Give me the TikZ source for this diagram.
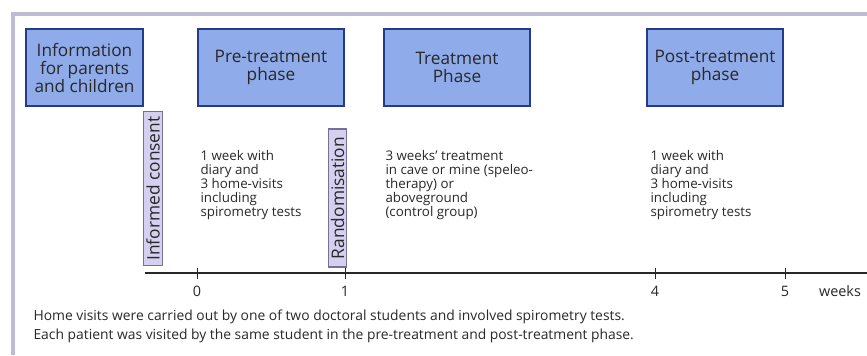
\documentclass[tikz,border=0pt]{standalone}
\usepackage{fontspec}
\setmainfont{Open Sans}
\usepackage{tikz}
\usetikzlibrary{
  arrows.meta,
  positioning,
  calc
}
\definecolor{phase_blue}{RGB}{143, 171, 233}
\definecolor{edge_blue}{RGB}{38, 58, 140}
\definecolor{event_lilac}{RGB}{214, 208, 240}
\definecolor{event_edge}{RGB}{118, 112, 150}
\definecolor{frame_gray}{RGB}{188, 188, 210}
\definecolor{ink_gray}{RGB}{40, 40, 40}

\begin{document}
\begin{tikzpicture}[
    % Styles
    x=0.75pt, y=0.75pt,
    font=\fontsize{10}{10.5}\selectfont,
    text=ink_gray,
    line width=0.8pt,
    % Phase boxes
    phase/.style={
        rectangle,
        draw=edge_blue,
        fill=phase_blue,
        line width=1.1pt,
        minimum height=57.75pt,
        inner sep=1pt,
        align=center,
        font=\fontsize{12.9}{13.5}\selectfont
    },
    % Rotated events
    event/.style={
        rectangle,
        draw=event_edge,
        fill=event_lilac,
        line width=0.9pt,
        rotate=90,
        minimum height=14pt,
        inner sep=0.5pt,
        font=\fontsize{13}{13}\selectfont
    },
    notes/.style={
        anchor=north west,
        inner sep=0pt,
        align=left
    },
    tick_lbl/.style={
        font=\fontsize{10.8}{11}\selectfont
    }
]
\useasboundingbox (0,0) rectangle (867,-355);

% --- FRAME ---
\coordinate (frame_bl) at (13,-355);
\coordinate (frame_tl) at (13,-14);
\coordinate (frame_tr) at (867,-14);
\draw[frame_gray, line width=2.4pt] (frame_bl) -- (frame_tl) -- (frame_tr);

% --- LAYOUT ---

% 1. Phases (top row)
\node[phase, minimum width=87.75pt] (info) at (84.5,-67.5) {Information\\for parents\\and children};
\node[phase, minimum width=109.5pt] (pre) at (271,-67.5) {Pre-treatment\\phase};
\node[phase, minimum width=109.5pt] (treat) at (457,-67.5) {Treatment\\Phase};
\node[phase, minimum width=102pt] (post) at (715,-67.5) {Post-treatment\\phase};

% 2. Events on the time line
\node[event, minimum width=116pt] (consent) at (153,-188.5) {Informed consent};
\node[event, minimum width=103.5pt] (random) at (337.5,-198) {Randomisation};

% 3. What happens in each phase
\node[notes] (pre_txt) at (200,-150) {1 week with\\diary and\\3 home-visits\\including\\spirometry tests};
\node[notes] (treat_txt) at (385,-150) {3 weeks' treatment\\in cave or mine (speleo-\\therapy) or\\aboveground\\(control group)};
\node[notes] (post_txt) at (650,-150) {1 week with\\diary and\\3 home-visits\\including\\spirometry tests};

% --- TIME AXIS ---
\coordinate (axis_start) at (145,-273);
\coordinate (axis_end) at (867,-273);
\draw[ink_gray, line width=1pt] (axis_start) -- (axis_end);

\foreach \xpos/\wk in {197/0, 345/1, 655/4, 785/5} {
    \coordinate (tick_top) at (\xpos,-268);
    \coordinate (tick_bot) at (\xpos,-279);
    \draw[ink_gray, line width=0.6pt] (tick_top) -- (tick_bot);
    \node[tick_lbl] (week\wk) at (\xpos,-291) {\wk};
}
\node[tick_lbl, right=15pt of week5] (weeks) {weeks};

% --- ANNOTATIONS ---
\node[notes, font=\fontsize{10.4}{14.25}\selectfont] (footer) at (33,-309) {Home visits were carried out by one of two doctoral students and involved spirometry tests.\\Each patient was visited by the same student in the pre-treatment and post-treatment phase.};

\end{tikzpicture}
\end{document}
